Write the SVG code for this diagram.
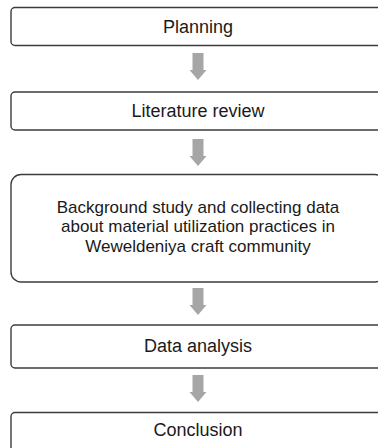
<svg xmlns="http://www.w3.org/2000/svg" width="378" height="448" viewBox="0 0 378 448">
<style>
.box{fill:#ffffff;stroke:#3c3c3c;stroke-width:1.4}
.t{font-family:"Liberation Sans",Arial,sans-serif;font-size:18px;fill:#1a1a1a;text-anchor:middle}
.s{font-size:17px}
.arr{fill:#a6a6a6}
</style>
<defs>
<path id="a" d="M-5.5,0 H5.5 V17 H8.5 L0,27 L-8.5,17 H-5.5 Z"/>
</defs>
<rect width="378" height="448" fill="#ffffff"/>
<g id="connectors">
<use href="#a" class="arr" x="198" y="53"/>
<use href="#a" class="arr" x="198" y="139"/>
<use href="#a" class="arr" x="198" y="288"/>
<use href="#a" class="arr" x="198" y="375"/>
</g>
<g id="planning">
<rect class="box" x="11" y="7.5" width="374" height="38" rx="4"/>
<text class="t" x="198" y="33">Planning</text>
</g>
<g id="literature">
<rect class="box" x="11" y="92" width="374" height="38" rx="4"/>
<text class="t" x="198" y="117">Literature review</text>
</g>
<g id="background">
<rect class="box" x="11" y="174.5" width="374" height="107.5" rx="10"/>
<text class="t s" x="198" y="212.5">Background study and collecting data</text>
<text class="t s" x="198" y="232.1">about material utilization practices in</text>
<text class="t s" x="198" y="251.7">Weweldeniya craft community</text>
</g>
<g id="analysis">
<rect class="box" x="11" y="325" width="374" height="43" rx="4"/>
<text class="t" x="198" y="352">Data analysis</text>
</g>
<g id="conclusion">
<rect class="box" x="11" y="412.5" width="374" height="45" rx="4"/>
<text class="t" x="198" y="436">Conclusion</text>
</g>
</svg>
